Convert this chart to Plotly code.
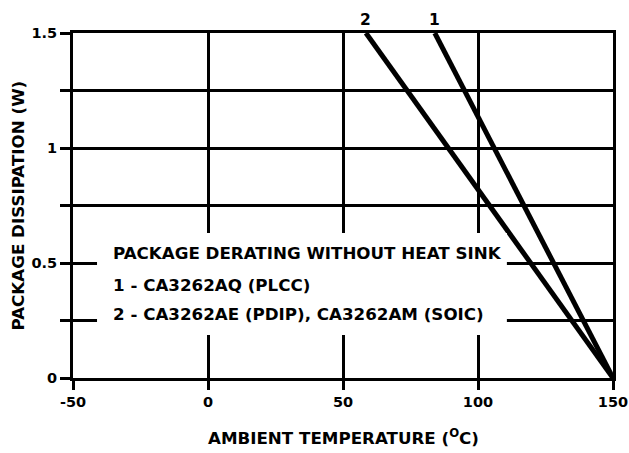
import plotly.graph_objects as go

# Derating curves (temperature in degC, dissipation in W)
curve1_x = [84, 150]
curve1_y = [1.5, 0]
curve2_x = [58.5, 150]
curve2_y = [1.5, 0]

x_ticks = [-50, 0, 50, 100, 150]
y_ticks = [0, 0.25, 0.5, 0.75, 1, 1.25, 1.5]
y_ticktext = ["0", "", "0.5", "", "1", "", "1.5"]

legend_lines = [
    "PACKAGE DERATING WITHOUT HEAT SINK",
    "1 - CA3262AQ (PLCC)",
    "2 - CA3262AE (PDIP), CA3262AM (SOIC)",
]
legend_y = [0.543, 0.404, 0.28]

font_family = "DejaVu Sans, Liberation Sans, Arial, sans-serif"
fsize = 16.7
tsize = 14.5

fig = go.Figure()
for xs, ys, name in [(curve1_x, curve1_y, "1"), (curve2_x, curve2_y, "2")]:
    fig.add_trace(go.Scatter(x=xs, y=ys, mode="lines", name=name,
                             line=dict(color="black", width=5),
                             showlegend=False, cliponaxis=False,
                             hoverinfo="skip"))

# white box behind legend text
fig.add_shape(type="rect", x0=-41.1, x1=110.7, y0=0.187, y1=0.63,
              xref="x", yref="y", fillcolor="white", line=dict(width=0),
              layer="above")

for txt, yy in zip(legend_lines, legend_y):
    fig.add_annotation(x=-35.9, y=yy, text="<b>%s</b>" % txt, showarrow=False,
                       xanchor="left", yanchor="middle",
                       font=dict(family=font_family, size=fsize, color="black"))

for lbl, xx in [("1", curve1_x[0]), ("2", curve2_x[0])]:
    fig.add_annotation(x=xx, y=1.5, text="<b>%s</b>" % lbl, showarrow=False,
                       xanchor="center", yanchor="bottom", yshift=2,
                       font=dict(family=font_family, size=15.5, color="black"))

# axis titles as paper annotations
fig.add_annotation(xref="paper", yref="paper", x=0.5, y=0, yshift=-59,
                   text="<b>AMBIENT TEMPERATURE (<sup>O</sup>C)</b>",
                   showarrow=False, xanchor="center", yanchor="middle",
                   font=dict(family=font_family, size=fsize, color="black"))
fig.add_annotation(xref="paper", yref="paper", x=0, xshift=-56, y=0.5,
                   text="<b>PACKAGE DISSIPATION (W)</b>", textangle=-90,
                   showarrow=False, xanchor="center", yanchor="middle",
                   font=dict(family=font_family, size=fsize, color="black"))

fig.update_layout(
    width=629, height=453,
    margin=dict(l=73, r=16, t=33, b=75, autoexpand=False),
    paper_bgcolor="white", plot_bgcolor="white",
    font=dict(family=font_family, size=tsize, color="black"),
)
fig.update_xaxes(range=[-50, 150], tickvals=x_ticks,
                 ticktext=["<b>%d</b>" % v for v in x_ticks],
                 ticklabeloverflow="allow",
                 showgrid=True, gridcolor="black", gridwidth=2.5,
                 showline=True, linecolor="black", linewidth=3, mirror=True,
                 ticks="outside", ticklen=9, tickwidth=3, tickcolor="black",
                 zeroline=False, automargin=False)
fig.update_yaxes(range=[0, 1.5], tickvals=y_ticks,
                 ticktext=["<b>%s</b>" % t for t in y_ticktext],
                 ticklabeloverflow="allow",
                 showgrid=True, gridcolor="black", gridwidth=2.5,
                 showline=True, linecolor="black", linewidth=3, mirror=True,
                 ticks="outside", ticklen=10, tickwidth=3, tickcolor="black",
                 zeroline=False, automargin=False)

fig.write_html("out.html", config={"displayModeBar": False},
               post_script="document.body.style.margin='0';")
